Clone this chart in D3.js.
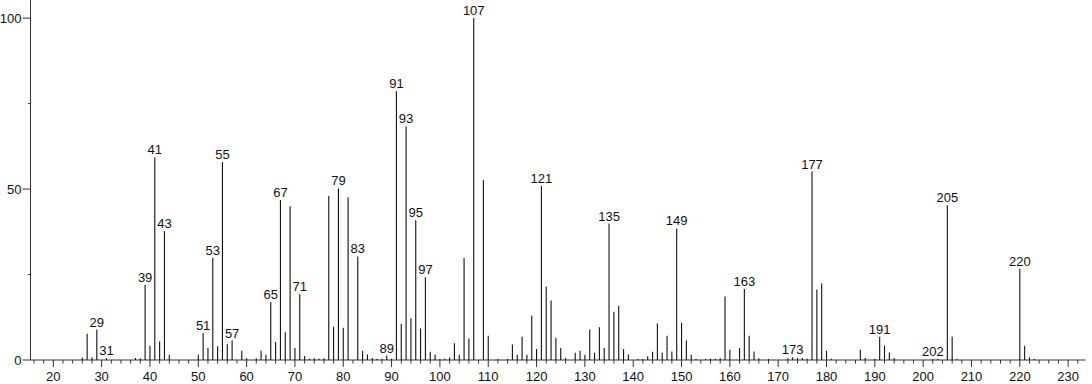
<!DOCTYPE html>
<html>
<head>
<meta charset="utf-8">
<script src="https://cdn.jsdelivr.net/npm/d3@7"></script>
<style>
  html, body { margin: 0; padding: 0; background: #fff; }
  svg { display: block; font-family: "Liberation Sans", Arial, sans-serif; }
</style>
</head>
<body>
<svg id="chart" width="1092" height="384"></svg>
<script>
// mass spectrum: m/z and relative intensity (base peak = 100)
var mz = [26, 27, 28, 29, 31, 37, 38, 39, 40, 41, 42, 43, 44,
  50, 51, 52, 53, 54, 55, 56, 57, 59, 60, 62, 63, 64, 65, 66, 67, 68, 69, 70,
  71, 72, 73, 74, 75, 76, 77, 78, 79, 80, 81, 83, 84, 85, 86, 87, 88, 89, 90,
  91, 92, 93, 94, 95, 96, 97, 98, 99, 100, 101, 102, 103, 104, 105, 106, 107,
  109, 110, 112, 114, 115, 116, 117, 118, 119, 120, 121, 122, 123, 124, 125,
  126, 128, 129, 130, 131, 132, 133, 134, 135, 136, 137, 138, 139, 141, 142,
  143, 144, 145, 146, 147, 148, 149, 150, 151, 152, 153, 155, 156, 157, 158,
  159, 160, 162, 163, 164, 165, 166, 168, 172, 173, 174, 175, 176, 177, 178,
  179, 180, 181, 187, 188, 190, 191, 192, 193, 194, 202, 203, 205, 206, 207,
  220, 221, 222, 223];
var intensity = [0.7, 7.7, 0.8, 8.9, 0.5, 0.6, 0.5, 22.0, 4.2, 59.3, 5.4, 37.7, 1.5,
  1.5, 7.9, 3.5, 29.9, 4.0, 57.9, 4.6, 5.7, 2.7, 0.5, 0.5, 2.7, 1.5, 17.0, 5.3, 46.8, 8.1, 45.0, 3.5,
  19.2, 1.2, 0.4, 0.5, 0.4, 0.5, 48.0, 9.7, 50.2, 9.4, 47.6, 30.3, 2.7, 1.6, 0.6, 0.4, 0.4, 1.3, 0.4,
  78.6, 10.6, 68.3, 12.2, 40.9, 9.2, 24.2, 2.4, 1.5, 0.3, 0.4, 0.7, 4.9, 1.5, 29.8, 6.3, 100,
  52.6, 7.1, 0.3, 0.3, 4.5, 1.5, 6.8, 1.5, 13.0, 3.2, 50.9, 21.5, 17.4, 6.4, 3.5,
  0.5, 2.1, 2.7, 1.5, 8.9, 2.1, 9.6, 3.5, 39.9, 14.1, 15.9, 3.2, 1.6, 0.3, 0.3,
  1.1, 2.4, 10.7, 2.1, 7.1, 2.5, 38.5, 10.9, 5.7, 1.5, 0.3, 0.3, 0.4, 0.4, 0.5,
  18.6, 3.0, 3.5, 20.8, 7.1, 2.5, 0.5, 0.3, 0.5, 0.8, 0.6, 0.6, 0.4, 55.1, 20.6,
  22.4, 2.7, 0.4, 3.0, 0.6, 0.4, 6.8, 4.2, 2.2, 0.5, 0.3, 0.3, 45.3, 6.8, 0.3,
  26.7, 4.2, 0.8, 0.3];
// peaks that carry an m/z label
var labeled = [29, 31, 39, 41, 43, 51, 53, 55, 57, 65, 67, 71, 79, 83, 89, 91, 93,
  95, 97, 107, 121, 135, 149, 163, 173, 177, 191, 202, 205, 220];
var xTicks = d3.range(20, 231, 10);
var yTicks = [0, 50, 100];

var svg = d3.select("#chart");
var ink = "#333";

var x = d3.scaleLinear().domain([15.28, 235]).range([30.5, 1092.3]);
var y = d3.scaleLinear().domain([0, 105.3]).range([360, 0]);

var peaks = mz.map(function(m, i) { return {mz: m, v: intensity[i]}; });

// x axis: long ticks with labels every 10, short ticks every 2
var xAxis = svg.append("g").attr("transform", "translate(0,360)");
xAxis.append("line")
  .attr("x1", x.range()[0]).attr("x2", x(233.6))
  .attr("stroke", ink);
xAxis.selectAll("line.minor").data(d3.range(16, 233, 2).filter(function(d) { return d % 10 != 0; }))
  .enter().append("line").attr("class", "minor")
  .attr("x1", function(d) { return x(d); }).attr("x2", function(d) { return x(d); })
  .attr("y1", 0).attr("y2", 3.5)
  .attr("stroke", ink);
xAxis.selectAll("line.major").data(xTicks)
  .enter().append("line").attr("class", "major")
  .attr("x1", function(d) { return x(d); }).attr("x2", function(d) { return x(d); })
  .attr("y1", 0).attr("y2", 7)
  .attr("stroke", ink);
xAxis.selectAll("text").data(xTicks)
  .enter().append("text")
  .attr("x", function(d) { return x(d); })
  .attr("y", 21)
  .attr("text-anchor", "middle")
  .attr("font-size", 13)
  .attr("fill", "#111")
  .text(function(d) { return d; });

// y axis
var yAxis = svg.append("g").attr("transform", "translate(30.5,0)");
yAxis.append("line").attr("y1", 0).attr("y2", 360).attr("stroke", ink);
yAxis.selectAll("line.minor").data([25, 75])
  .enter().append("line").attr("class", "minor")
  .attr("x1", -2.5).attr("x2", 0)
  .attr("y1", function(d) { return y(d); }).attr("y2", function(d) { return y(d); })
  .attr("stroke", ink);
yAxis.selectAll("line.major").data(yTicks)
  .enter().append("line").attr("class", "major")
  .attr("x1", -8).attr("x2", 0)
  .attr("y1", function(d) { return y(d); }).attr("y2", function(d) { return y(d); })
  .attr("stroke", ink);
yAxis.selectAll("text").data(yTicks)
  .enter().append("text")
  .attr("x", -9)
  .attr("y", function(d) { return y(d); })
  .attr("dy", "0.36em")
  .attr("text-anchor", "end")
  .attr("font-size", 13)
  .attr("fill", "#111")
  .text(function(d) { return d; });

// stick spectrum
svg.append("g").selectAll("line").data(peaks)
  .enter().append("line")
  .attr("x1", function(d) { return x(d.mz); })
  .attr("x2", function(d) { return x(d.mz); })
  .attr("y1", y(0))
  .attr("y2", function(d) { return y(d.v); })
  .attr("stroke", "#111")
  .attr("stroke-width", 1.1);

// peak labels
svg.append("g").selectAll("text")
  .data(peaks.filter(function(d) { return labeled.indexOf(d.mz) >= 0; }))
  .enter().append("text")
  .attr("x", function(d) { return x(d.mz); })
  .attr("y", function(d) { return y(d.v) - 3; })
  .attr("text-anchor", "middle")
  .attr("font-size", 13)
  .attr("fill", "#111")
  .text(function(d) { return d.mz; });
</script>
</body>
</html>
